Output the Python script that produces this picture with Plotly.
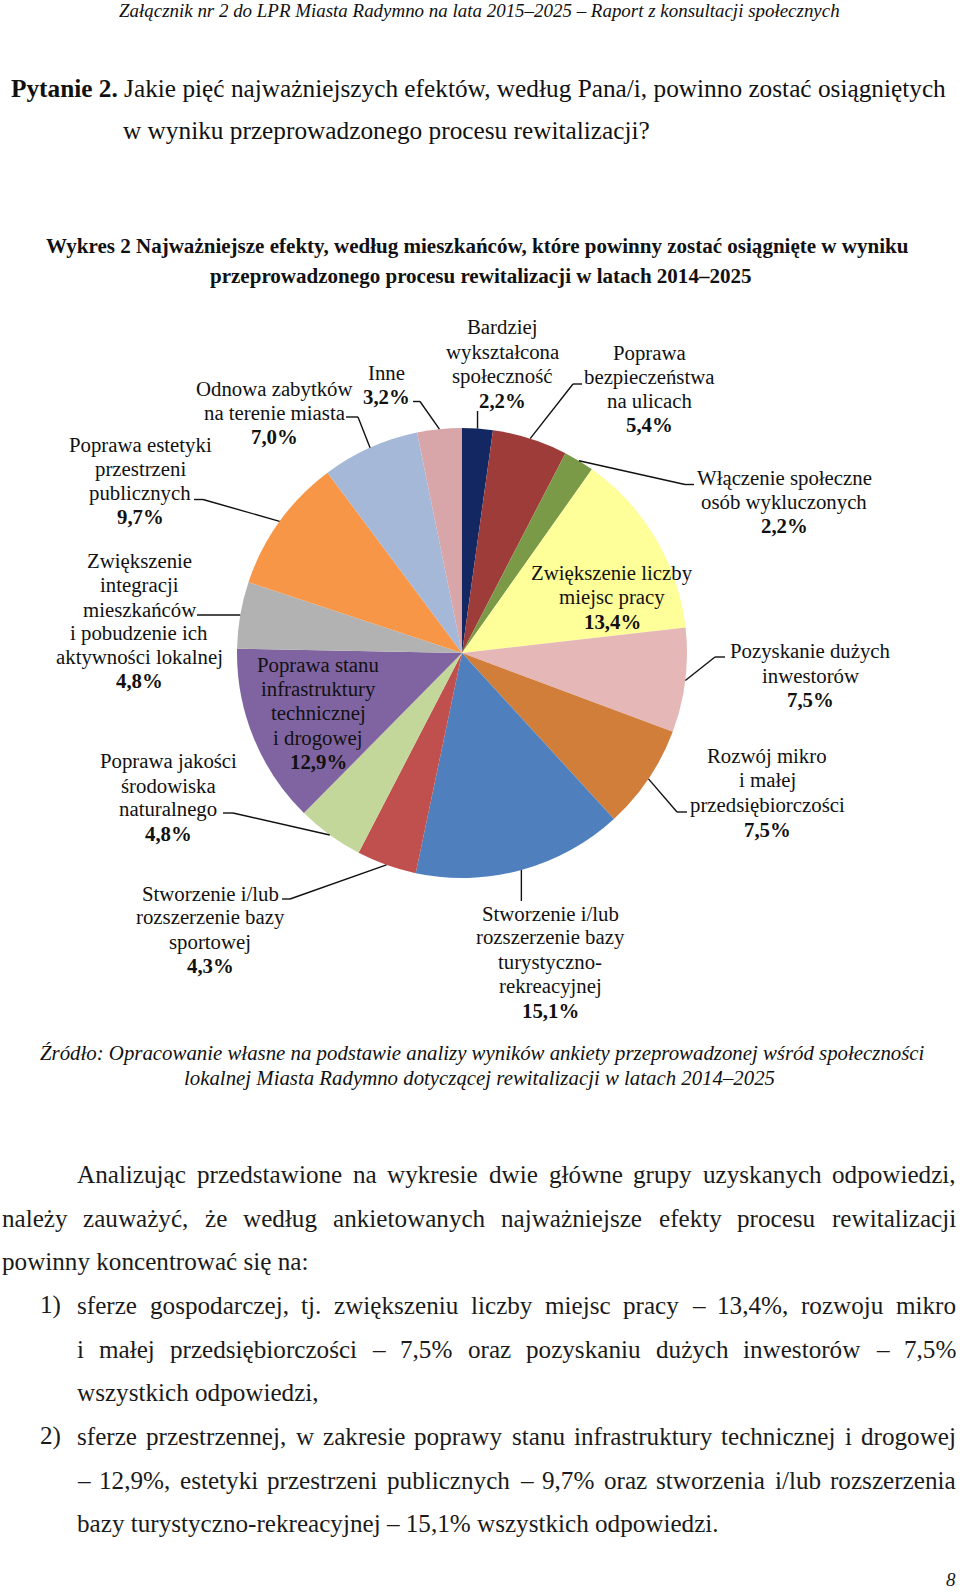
import math
import plotly.graph_objects as go

# ---------------- data ----------------
categories = [
    "Bardziej wykształcona społeczność",
    "Poprawa bezpieczeństwa na ulicach",
    "Włączenie społeczne osób wykluczonych",
    "Zwiększenie liczby miejsc pracy",
    "Pozyskanie dużych inwestorów",
    "Rozwój mikro i małej przedsiębiorczości",
    "Stworzenie i/lub rozszerzenie bazy turystyczno-rekreacyjnej",
    "Stworzenie i/lub rozszerzenie bazy sportowej",
    "Poprawa jakości środowiska naturalnego",
    "Poprawa stanu infrastruktury technicznej i drogowej",
    "Zwiększenie integracji mieszkańców i pobudzenie ich aktywności lokalnej",
    "Poprawa estetyki przestrzeni publicznych",
    "Odnowa zabytków na terenie miasta",
    "Inne",
]
values = [2.2, 5.4, 2.2, 13.4, 7.5, 7.5, 15.1, 4.3, 4.8, 12.9, 4.8, 9.7, 7.0, 3.2]
label_lines = [
    ["Bardziej", "wykształcona", "społeczność"],
    ["Poprawa", "bezpieczeństwa", "na ulicach"],
    ["Włączenie społeczne", "osób wykluczonych"],
    ["Zwiększenie liczby", "miejsc pracy"],
    ["Pozyskanie dużych", "inwestorów"],
    ["Rozwój mikro", "i małej", "przedsiębiorczości"],
    ["Stworzenie i/lub", "rozszerzenie bazy", "turystyczno-", "rekreacyjnej"],
    ["Stworzenie i/lub", "rozszerzenie bazy", "sportowej"],
    ["Poprawa jakości", "środowiska", "naturalnego"],
    ["Poprawa stanu", "infrastruktury", "technicznej", "i drogowej"],
    ["Zwiększenie", "integracji", "mieszkańców", "i pobudzenie ich", "aktywności lokalnej"],
    ["Poprawa estetyki", "przestrzeni", "publicznych"],
    ["Odnowa zabytków", "na terenie miasta"],
    ["Inne"],
]
colors = ["#132863", "#9E3C3A", "#7A9A48", "#FFFF99", "#E5B8B7", "#D07E3A", "#4F80BD",
          "#C0504D", "#C4D79B", "#8064A2", "#B2B2B2", "#F79646", "#A6B8D8", "#D8A6A8"]

header_text = "Załącznik nr 2 do LPR Miasta Radymno na lata 2015–2025 – Raport z konsultacji społecznych"
question_bold = "Pytanie 2."
question_rest = " Jakie pięć najważniejszych efektów, według Pana/i, powinno zostać osiągniętych"
question_line2 = "w wyniku przeprowadzonego procesu rewitalizacji?"
title_lines = ["Wykres 2 Najważniejsze efekty, według mieszkańców, które powinny zostać osiągnięte w wyniku",
               "przeprowadzonego procesu rewitalizacji w latach 2014–2025"]
source_lines = ["Źródło: Opracowanie własne na podstawie analizy wyników ankiety przeprowadzonej wśród społeczności",
                "lokalnej Miasta Radymno dotyczącej rewitalizacji w latach 2014–2025"]
body_lines = [
    "Analizując przedstawione na wykresie dwie główne grupy uzyskanych odpowiedzi,",
    "należy zauważyć, że według ankietowanych najważniejsze efekty procesu rewitalizacji",
    "powinny koncentrować się na:",
    "sferze gospodarczej, tj. zwiększeniu liczby miejsc pracy – 13,4%, rozwoju mikro",
    "i małej przedsiębiorczości – 7,5% oraz pozyskaniu dużych inwestorów – 7,5%",
    "wszystkich odpowiedzi,",
    "sferze przestrzennej, w zakresie poprawy stanu infrastruktury technicznej i drogowej",
    "– 12,9%, estetyki przestrzeni publicznych – 9,7% oraz stworzenia i/lub rozszerzenia",
    "bazy turystyczno-rekreacyjnej – 15,1% wszystkich odpowiedzi.",
]
list_markers = ["1)", "2)"]
page_number = "8"

# ---------------- layout constants ----------------
W, H = 960, 1592
FONT = "Liberation Serif, Times New Roman, serif"
TXT = "#111111"
CX, CY, R = 462, 653, 225
LABEL_SIZE = 20.8

# label placement: centre x, first line y, line step, leader elbows (None = same x as edge)
label_pos = [
    (502, 327, 24.6, [(None, 411)]),
    (649, 352.5, 24.0, [(573, 384), (582, 384)]),
    (784, 477.5, 24.1, [(685, 484.5), (694, 484.5)]),
    (612, 573, 24.1, []),
    (810, 651, 24.2, [(715, 657), (725, 657)]),
    (767, 756, 24.4, [(677, 812), (687, 812)]),
    (550, 913, 24.3, [(None, 901)]),
    (210, 893, 24.3, [(290, 899), (282, 899)]),
    (168, 761, 24.0, [(233, 813), (223, 813)]),
    (318, 665, 24.2, []),
    (139, 561, 24.0, [(197, 615)]),
    (140, 445, 23.8, [(203, 499.5), (194, 499.5)]),
    (274.5, 389, 23.8, [(358, 417), (346, 417)]),
    (386.5, 372, 24.2, [(420, 401.5), (413, 401.5)]),
]

# Times-compatible glyph widths (per 1000 em)
REG = {' ': 250, 'a': 444, 'b': 500, 'c': 444, 'd': 500, 'e': 444, 'f': 333, 'g': 500, 'h': 500, 'i': 278,
       'j': 278, 'k': 500, 'l': 278, 'm': 778, 'n': 500, 'o': 500, 'p': 500, 'q': 500, 'r': 333, 's': 389,
       't': 278, 'u': 500, 'v': 500, 'w': 722, 'x': 500, 'y': 500, 'z': 444, 'A': 722, 'B': 667, 'C': 667,
       'D': 722, 'E': 611, 'F': 556, 'G': 722, 'H': 722, 'I': 333, 'J': 389, 'K': 722, 'L': 611, 'M': 889,
       'N': 722, 'O': 722, 'P': 556, 'Q': 722, 'R': 667, 'S': 556, 'T': 611, 'U': 722, 'V': 722, 'W': 944,
       'X': 722, 'Y': 722, 'Z': 611, ',': 250, '.': 250, ':': 278, ';': 278, '%': 833, '–': 500, '-': 333,
       '(': 333, ')': 333, '/': 278, '?': 444}
ITAL = {' ': 250, 'a': 500, 'b': 500, 'c': 444, 'd': 500, 'e': 444, 'f': 278, 'g': 500, 'h': 500, 'i': 278,
        'j': 278, 'k': 444, 'l': 278, 'm': 722, 'n': 500, 'o': 500, 'p': 500, 'q': 500, 'r': 389, 's': 389,
        't': 278, 'u': 500, 'v': 444, 'w': 667, 'x': 444, 'y': 444, 'z': 389, 'A': 611, 'B': 611, 'C': 667,
        'D': 722, 'E': 611, 'F': 611, 'G': 722, 'H': 722, 'I': 333, 'J': 444, 'K': 667, 'L': 556, 'M': 833,
        'N': 667, 'O': 722, 'P': 611, 'Q': 722, 'R': 611, 'S': 500, 'T': 556, 'U': 722, 'V': 611, 'W': 833,
        'X': 611, 'Y': 556, 'Z': 556, ',': 250, '.': 250, ':': 333, '–': 500, '-': 333, '/': 278, '%': 833,
        '?': 500}
BOLD = {' ': 250, 'a': 500, 'b': 556, 'c': 444, 'd': 556, 'e': 444, 'f': 333, 'g': 500, 'h': 556, 'i': 278,
        'j': 333, 'k': 556, 'l': 278, 'm': 833, 'n': 556, 'o': 500, 'p': 556, 'q': 556, 'r': 444, 's': 389,
        't': 333, 'u': 556, 'v': 500, 'w': 722, 'x': 500, 'y': 500, 'z': 444, 'A': 722, 'B': 667, 'C': 722,
        'D': 722, 'E': 667, 'F': 611, 'G': 778, 'H': 778, 'I': 389, 'J': 500, 'K': 778, 'L': 667, 'M': 944,
        'N': 722, 'O': 778, 'P': 611, 'Q': 778, 'R': 722, 'S': 556, 'T': 667, 'U': 722, 'V': 722, 'W': 1000,
        'X': 722, 'Y': 722, 'Z': 667, ',': 250, '.': 250, ':': 333, '%': 1000, '–': 500, '-': 333, '?': 500,
        '/': 278}
DIAC = {'ą': 'a', 'ć': 'c', 'ę': 'e', 'ł': 'l', 'ń': 'n', 'ó': 'o', 'ś': 's', 'ź': 'z', 'ż': 'z',
        'Ł': 'L', 'Ś': 'S', 'Ź': 'Z', 'Ż': 'Z', 'Ó': 'O'}


def wem(s, table):
    return sum(table.get(DIAC.get(ch, ch), 500) for ch in s) / 1000.0


annotations = []
shapes = []


def ann(text, x, y, size, xanchor="center", color=TXT):
    annotations.append(dict(text=text, x=x / W, y=1 - y / H, xref="paper", yref="paper",
                            xanchor=xanchor, yanchor="middle", showarrow=False, borderpad=0,
                            align="left" if xanchor == "left" else "center",
                            font=dict(family=FONT, size=size, color=color)))


def seg(p, q):
    shapes.append(dict(type="line", xref="paper", yref="paper",
                       x0=p[0] / W, y0=1 - p[1] / H, x1=q[0] / W, y1=1 - q[1] / H,
                       line=dict(color="#111111", width=1.4)))


# ---------------- pie ----------------
fig = go.Figure(go.Pie(
    labels=categories, values=values, sort=False, direction="clockwise", rotation=0,
    marker=dict(colors=colors, line=dict(width=0)), textinfo="none", textposition="none",
    hoverinfo="label+percent", showlegend=False,
    domain=dict(x=[(CX - R) / W, (CX + R) / W], y=[1 - (CY + R) / H, 1 - (CY - R) / H]),
))

total = sum(values)
cum = 0.0
for i, v in enumerate(values):
    theta = 2 * math.pi * (cum + v / 2) / total
    cum += v
    edge = (CX + R * math.sin(theta), CY - R * math.cos(theta))
    cx, y0, dy, elbows = label_pos[i]
    pct = f"{v:.1f}%".replace(".", ",")
    lines = label_lines[i]
    for j, t in enumerate(lines):
        ann(t, cx, y0 + j * dy, LABEL_SIZE)
    ann("<b>" + pct + "</b>", cx, y0 + len(lines) * dy, LABEL_SIZE)
    pts = [edge] + [((ex if ex is not None else edge[0]), ey) for ex, ey in elbows]
    for a, b in zip(pts[:-1], pts[1:]):
        seg(a, b)

# ---------------- page texts ----------------
hs = 721 / wem(header_text, ITAL)
ann("<i>" + header_text + "</i>", 479.5, 10, hs)

qs = 937 / (wem(question_bold, BOLD) + wem(question_rest, REG))
ann("<b>" + question_bold + "</b>" + question_rest, 10, 88, qs, xanchor="left")
ann(question_line2, 122, 130, qs, xanchor="left")

ts = 867 / wem(title_lines[0], BOLD)
ann("<b>" + title_lines[0] + "</b>", 477.5, 246, ts)
ann("<b>" + title_lines[1] + "</b>", 480, 276, ts)

ss = 886 / wem(source_lines[0], ITAL)
ann("<i>" + source_lines[0] + "</i>", 482, 1053, ss)
ann("<i>" + source_lines[1] + "</i>", 479.5, 1078, ss)

BS = 642 / wem(body_lines[8], REG)
BODY_COL = "#1a1a1a"
RIGHT = 955


def justified(text, left, right, y):
    words = text.split(" ")
    widths = [wem(w, REG) * BS for w in words]
    gap = (right - left - sum(widths)) / (len(words) - 1)
    x = left
    for w, wd in zip(words, widths):
        ann(w, x, y, BS, xanchor="left", color=BODY_COL)
        x += wd + gap


body_y = [1174, 1218, 1261, 1305, 1349, 1392, 1436, 1480, 1523]
justified(body_lines[0], 76, RIGHT, body_y[0])
justified(body_lines[1], 0.5, RIGHT, body_y[1])
ann(body_lines[2], 0.5, body_y[2], BS, xanchor="left", color=BODY_COL)
ann(list_markers[0], 39, body_y[3], BS, xanchor="left", color=BODY_COL)
justified(body_lines[3], 76, RIGHT, body_y[3])
justified(body_lines[4], 76, RIGHT, body_y[4])
ann(body_lines[5], 76, body_y[5], BS, xanchor="left", color=BODY_COL)
ann(list_markers[1], 39, body_y[6], BS, xanchor="left", color=BODY_COL)
justified(body_lines[6], 76, RIGHT, body_y[6])
justified(body_lines[7], 76, RIGHT, body_y[7])
ann(body_lines[8], 76, body_y[8], BS, xanchor="left", color=BODY_COL)

ann("<i>" + page_number + "</i>", 951, 1579, 19, color=BODY_COL)

fig.update_layout(
    width=W, height=H, margin=dict(l=0, r=0, t=0, b=0),
    paper_bgcolor="white", plot_bgcolor="white", showlegend=False,
    annotations=annotations, shapes=shapes,
)
fig.write_html("out.html",
               config={"displayModeBar": False},
               post_script="document.body.style.margin='0';document.body.style.padding='0';"
                           "document.body.style.overflow='hidden';")
